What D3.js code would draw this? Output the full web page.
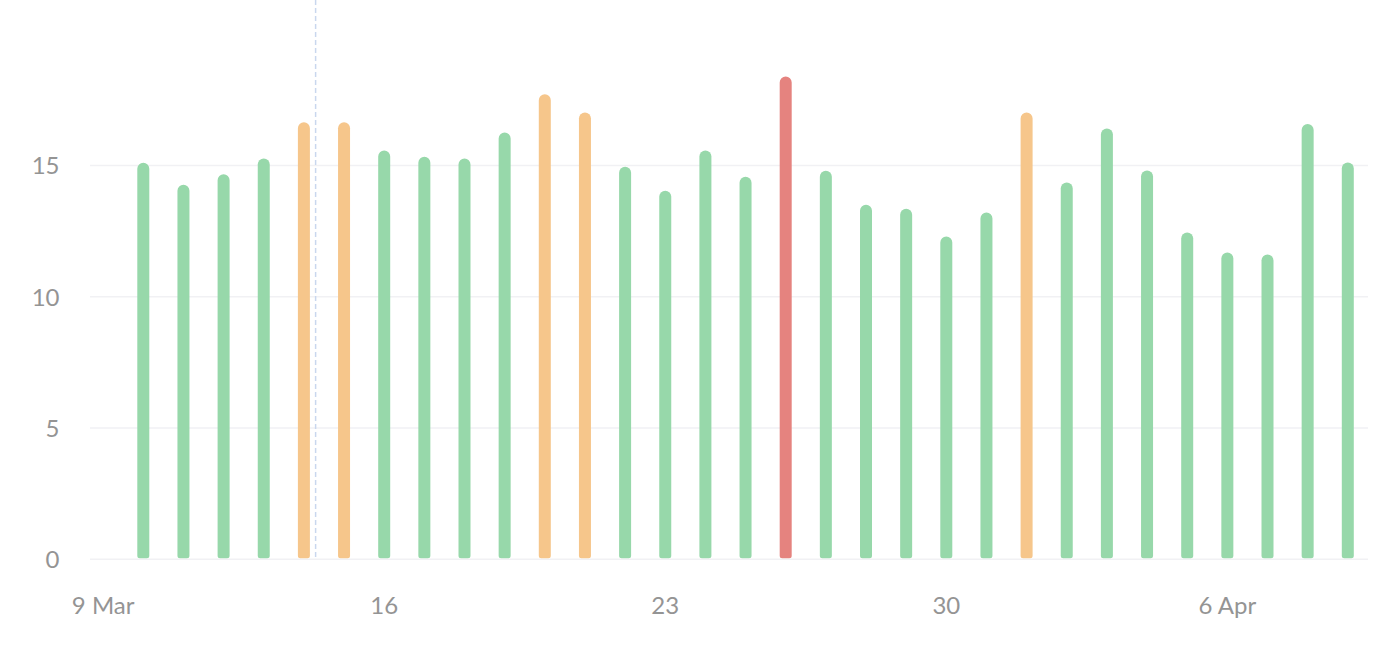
<!DOCTYPE html>
<html>
<head>
<meta charset="utf-8">
<script src="https://cdn.jsdelivr.net/npm/d3@7"></script>
<style>
  body { margin: 0; background: #fff; }
  text { font-family: Lato, "Noto Sans", sans-serif; }
</style>
</head>
<body>
<script>
// daily values, 10 Mar -> 9 Apr 2020
var days = [
  "2020-03-10","2020-03-11","2020-03-12","2020-03-13","2020-03-14","2020-03-15",
  "2020-03-16","2020-03-17","2020-03-18","2020-03-19","2020-03-20","2020-03-21",
  "2020-03-22","2020-03-23","2020-03-24","2020-03-25","2020-03-26","2020-03-27",
  "2020-03-28","2020-03-29","2020-03-30","2020-03-31","2020-04-01","2020-04-02",
  "2020-04-03","2020-04-04","2020-04-05","2020-04-06","2020-04-07","2020-04-08",
  "2020-04-09"];

var values = [
  15.1, 14.26, 14.66, 15.26, 16.64, 16.64,
  15.57, 15.33, 15.26, 16.25, 17.71, 17.02,
  14.95, 14.04, 15.57, 14.57, 18.39, 14.8,
  13.5, 13.35, 12.29, 13.21, 17.02, 14.35,
  16.41, 14.81, 12.45, 11.68, 11.61, 16.58,
  15.11];

// ok / warn / alert per day
var levels = [
  "ok","ok","ok","ok","warn","warn",
  "ok","ok","ok","ok","warn","warn",
  "ok","ok","ok","ok","alert","ok",
  "ok","ok","ok","ok","warn","ok",
  "ok","ok","ok","ok","ok","ok",
  "ok"];

var yTicks = [0, 5, 10, 15];
var xTickDates = ["2020-03-09","2020-03-16","2020-03-23","2020-03-30","2020-04-06"];
var xTickLabels = ["9 Mar", "16", "23", "30", "6 Apr"];
var nowMarker = "2020-03-14T07:00";

var width = 1384, height = 648;
var parse = d3.isoParse;

var svg = d3.select("body").append("svg")
  .attr("width", width)
  .attr("height", height);

var x = d3.scaleTime()
  .domain([parse("2020-03-09"), parse("2020-04-09")])
  .range([103.15, 1347.8]);

var y = d3.scaleLinear()
  .domain([0, 21.3])
  .range([559.3, 0]);

var colors = { ok: "#97d8aa", warn: "#f6c68b", alert: "#e5837f" };

// grid
svg.append("g").selectAll("line")
  .data(yTicks)
  .enter().append("line")
  .attr("x1", 90).attr("x2", 1368)
  .attr("y1", function(d) { return y(d); })
  .attr("y2", function(d) { return y(d); })
  .attr("stroke", "#f1f1f4")
  .attr("stroke-width", 1.5);

// y labels
svg.append("g").selectAll("text")
  .data(yTicks)
  .enter().append("text")
  .attr("x", 59.5)
  .attr("y", function(d) { return y(d) + 9; })
  .attr("text-anchor", "end")
  .attr("font-size", 24)
  .attr("fill", "#949494")
  .text(function(d) { return d; });

// x labels
svg.append("g").selectAll("text")
  .data(xTickDates)
  .enter().append("text")
  .attr("x", function(d) { return x(parse(d)); })
  .attr("y", 614)
  .attr("text-anchor", "middle")
  .attr("font-size", 24)
  .attr("fill", "#949494")
  .text(function(d, i) { return xTickLabels[i]; });

// bars: round top, slightly rounded bottom
function barPath(cx, top, bottom) {
  var w = 6, rt = 6, rb = 2.5;
  if (bottom - top < rt + rb) top = bottom - rt - rb;
  return "M" + (cx - w) + "," + (top + rt) +
    "A" + rt + "," + rt + " 0 0 1 " + (cx + w) + "," + (top + rt) +
    "L" + (cx + w) + "," + (bottom - rb) +
    "Q" + (cx + w) + "," + bottom + " " + (cx + w - rb) + "," + bottom +
    "L" + (cx - w + rb) + "," + bottom +
    "Q" + (cx - w) + "," + bottom + " " + (cx - w) + "," + (bottom - rb) + "Z";
}

var bars = days.map(function(d, i) {
  return { date: parse(d), value: values[i], level: levels[i] };
});

svg.append("g").selectAll("path")
  .data(bars)
  .enter().append("path")
  .attr("d", function(d) { return barPath(x(d.date), y(d.value), y(0) - 1); })
  .attr("fill", function(d) { return colors[d.level]; });

// now marker
svg.append("line")
  .attr("x1", x(parse(nowMarker))).attr("x2", x(parse(nowMarker)))
  .attr("y1", 0).attr("y2", y(0))
  .attr("stroke", "#c9d7ee")
  .attr("stroke-width", 1.5)
  .attr("stroke-dasharray", "5,3");
</script>
</body>
</html>
